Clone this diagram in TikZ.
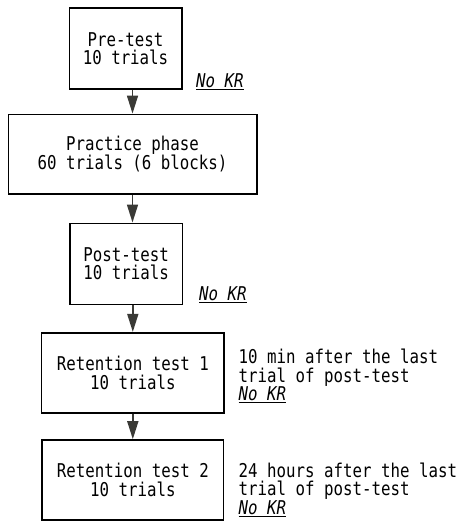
\documentclass[tikz,border=0pt]{standalone}
\usepackage{fontspec}
\setmainfont{DejaVu Sans Mono}[FakeStretch=0.83]
\usetikzlibrary{arrows.meta}
\definecolor{arrgray}{HTML}{3A3A36}
\tikzset{
  box/.style={draw=black, line width=1.6pt, align=center, inner sep=0pt,
    font=\fontsize{19}{18.5}\selectfont},
  arr/.style={draw=arrgray, line width=1.6pt, -{Triangle[width=11pt,length=18pt]}, fill=arrgray},
  note/.style={anchor=north west, align=left, inner sep=0pt,
    font=\fontsize{19}{18.5}\selectfont},
  nokr/.style={anchor=north west, inner sep=0pt, font=\fontsize{19}{18.5}\selectfont\itshape}
}
\begin{document}
\begin{tikzpicture}[x=1pt,y=-1pt]
\useasboundingbox (0,0) rectangle (461,521);
\node[box, minimum width=112.4pt, minimum height=81pt] (b1) at (125.5,48.8) {Pre-test\\10 trials};
\node[box, minimum width=248.4pt, minimum height=79.7pt] (b2) at (132.5,154.2) {Practice phase\\60 trials (6 blocks)};
\node[box, minimum width=112.3pt, minimum height=81pt] (b3) at (126.2,263.8) {Post-test\\10 trials};
\node[box, minimum width=182.3pt, minimum height=80pt] (b4) at (132.8,372.7) {Retention test 1\\10 trials};
\node[box, minimum width=181.7pt, minimum height=80pt] (b5) at (132.8,480) {Retention test 2\\10 trials};
\node[nokr] (k1) at (196,73) {\underline{No KR}};
\node[nokr] (k2) at (199,286.5) {\underline{No KR}};
\node[note] (t4) at (238.5,349) {10 min after the last\\trial of post-test\\\textit{\underline{No KR}}};
\node[note] (t5) at (238.5,462.5) {24 hours after the last\\trial of post-test\\\textit{\underline{No KR}}};
\draw[arr] (b2.north |- b1.south) -- (b2.north);
\draw[arr] (b2.south) -- (b3.north -| b2.south);
\draw[arr] (b3.south -| b4.north) -- (b4.north);
\draw[arr] (b4.south) -- (b5.north -| b4.south);
\end{tikzpicture}
\end{document}
